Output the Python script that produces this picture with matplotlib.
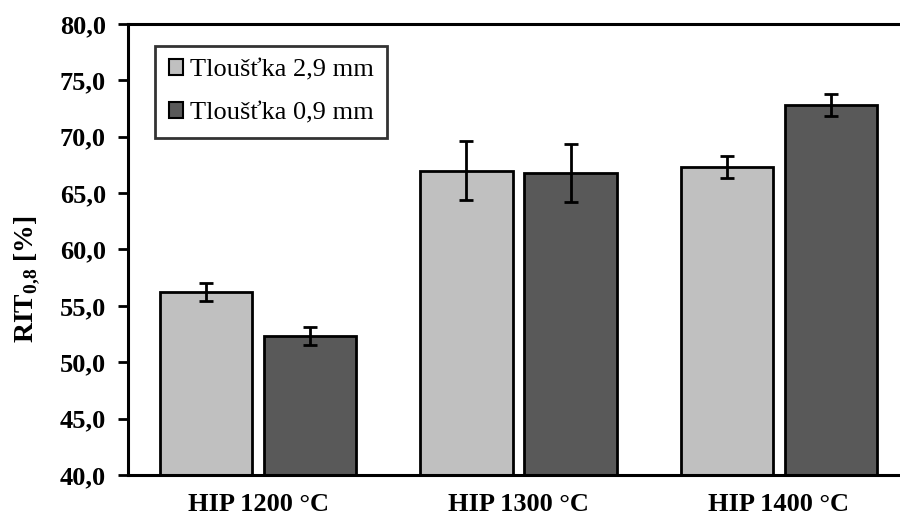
import matplotlib
matplotlib.use('Agg')
import matplotlib.pyplot as plt
import numpy as np

# data
categories = ['HIP 1200 °C', 'HIP 1300 °C', 'HIP 1400 °C']
thick_29 = [56.2, 67.0, 67.3]
thick_29_err = [0.8, 2.6, 1.0]
thick_09 = [52.3, 66.8, 72.8]
thick_09_err = [0.8, 2.6, 1.0]
series_labels = ['Tloušťka 2,9 mm', 'Tloušťka 0,9 mm']
yticks = [40, 45, 50, 55, 60, 65, 70, 75, 80]

plt.rcParams['font.family'] = 'Liberation Serif'
plt.rcParams['mathtext.fontset'] = 'custom'
plt.rcParams['mathtext.bf'] = 'Liberation Serif:bold'
plt.rcParams['mathtext.rm'] = 'Liberation Serif:bold'

fig = plt.figure(figsize=(9, 5.17), dpi=100)
# plot area runs past the right edge, like the cropped original
ax = fig.add_axes([128 / 900, 42 / 517, 781 / 900, 451 / 517])

x = np.arange(len(categories))
w = 0.354
err_kw = dict(ecolor='black', elinewidth=2, capsize=5, capthick=2)
ax.bar(x - 0.2, thick_29, w, yerr=thick_29_err, color='#c0c0c0',
       edgecolor='black', linewidth=2, label=series_labels[0], error_kw=err_kw)
ax.bar(x + 0.2, thick_09, w, yerr=thick_09_err, color='#595959',
       edgecolor='black', linewidth=2, label=series_labels[1], error_kw=err_kw)

ax.set_xlim(-0.5, 2.5)
ax.set_ylim(40, 80)
ax.set_yticks(yticks)
ax.set_yticklabels([f'{v:.1f}'.replace('.', ',') for v in yticks],
                   fontsize=19, fontweight='bold')
ax.set_xticks(x)
ax.set_xticklabels(categories, fontsize=19, fontweight='bold')
ax.tick_params(axis='x', length=0, pad=13)
ax.tick_params(axis='y', length=7, width=2, direction='out', pad=9)

for s in ax.spines.values():
    s.set_linewidth(2.2)

ax.set_ylabel(r'RIT$_{\mathbf{0{,}8}}$ [%]', fontsize=20, fontweight='bold')
ax.yaxis.set_label_coords(-0.11, 0.435)

leg = ax.legend(loc='upper left', bbox_to_anchor=(0.035, 0.952), fontsize=19,
                frameon=True, fancybox=False, edgecolor='black',
                handlelength=0.55, handleheight=0.55, handletextpad=0.25,
                borderpad=0.5, labelspacing=0.8, borderaxespad=0)
leg.get_frame().set_linewidth(2)
for h in leg.legend_handles:
    h.set_linewidth(1.5)

fig.savefig('out.png', dpi=100)
